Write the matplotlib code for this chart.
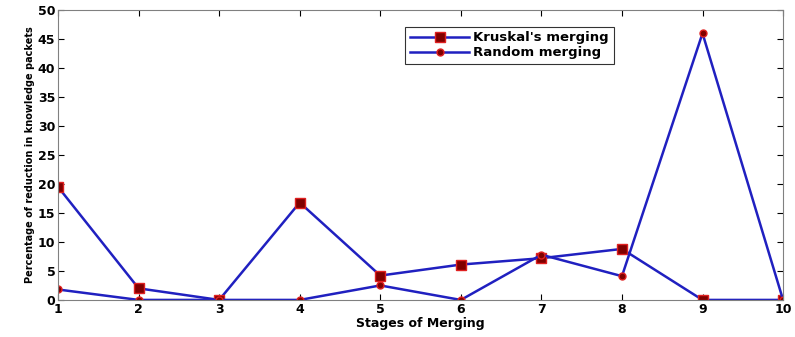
import matplotlib
matplotlib.use("Agg")
import matplotlib.pyplot as plt

stages = [1, 2, 3, 4, 5, 6, 7, 8, 9, 10]
kruskal = [19.5, 2.0, 0.0, 16.8, 4.2, 6.1, 7.2, 8.8, 0.0, 0.0]
random_merge = [1.8, 0.0, 0.0, 0.0, 2.5, 0.0, 7.8, 4.1, 46.0, 0.0]

fig = plt.figure(figsize=(7.95, 3.37), dpi=100)
ax = fig.add_axes([0.073, 0.11, 0.912, 0.86])

ax.plot(stages, kruskal, color="#2020c0", lw=1.8, marker="s", ms=7,
        mfc="#800000", mec="#e02020", label="Kruskal's merging")
ax.plot(stages, random_merge, color="#2020c0", lw=1.8, marker="o", ms=5,
        mfc="#800000", mec="#e02020", label="Random merging")

ax.set_xlim(1, 10)
ax.set_ylim(0, 50)
ax.set_xticks(stages)
ax.set_yticks(range(0, 51, 5))
ax.tick_params(direction="in", labelsize=9, top=True, right=True, length=4, pad=2)
for lab in ax.get_xticklabels() + ax.get_yticklabels():
    lab.set_fontweight("bold")
for s in ax.spines.values():
    s.set_color("#808080")

ax.set_xlabel("Stages of Merging", fontsize=9, fontweight="bold", labelpad=1)
ax.set_ylabel("Percentage of reduction in knowledge packets", fontsize=7,
              fontweight="bold", labelpad=2)

leg = ax.legend(loc="upper left", bbox_to_anchor=(0.47, 0.965), fancybox=False,
                edgecolor="black", prop={"weight": "bold", "size": 9.5},
                handlelength=4.5, borderpad=0.35, labelspacing=0.15,
                handletextpad=0.3)
leg.get_frame().set_linewidth(0.8)

fig.savefig("out.png", dpi=100)
